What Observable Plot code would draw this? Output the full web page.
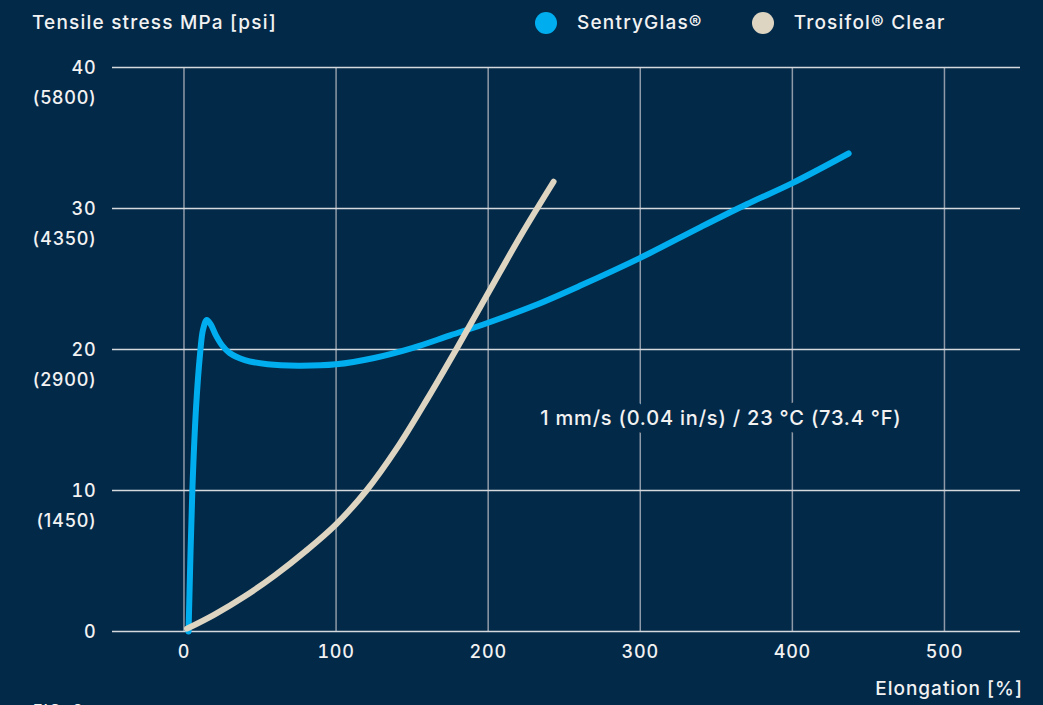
<!DOCTYPE html>
<html>
<head>
<meta charset="utf-8">
<script src="https://cdn.jsdelivr.net/npm/d3@7"></script>
<script src="https://cdn.jsdelivr.net/npm/@observablehq/plot@0.6"></script>
<style>
  html, body { margin: 0; padding: 0; background: #032949; overflow: hidden; }
  #wrap { position: relative; width: 1043px; height: 705px; background: #032949; color: #f2f2f2;
          font-family: Inter, "Noto Sans", sans-serif; font-weight: 500; }
  #chart { position: absolute; left: 0; top: 0; }
  .title { position: absolute; left: 32px; top: 11px; font-size: 19px; letter-spacing: 1.2px; white-space: nowrap; }
  .legend { position: absolute; top: 11px; left: 535px; display: flex; align-items: center; font-size: 19px; letter-spacing: 1.2px; white-space: nowrap; }
  .item { display: flex; align-items: center; }
  .dot { width: 22px; height: 22px; border-radius: 50%; margin-right: 20px; }
  .xlabel { position: absolute; right: 20px; top: 677px; font-size: 19px; letter-spacing: 1px; white-space: nowrap; }
  .fig { position: absolute; left: 33px; top: 700px; font-size: 16px; letter-spacing: 1px; }
</style>
</head>
<body>
<div id="wrap">
  <div id="chart"></div>
  <div class="title" id="title"></div>
  <div class="legend" id="legend"></div>
  <div class="xlabel" id="xlabel"></div>
  <div class="fig" id="fig"></div>
</div>
<script>
// ---- data ----
const seriesNames = ["SentryGlas®", "Trosifol® Clear"];
const seriesColors = ["#00aeef", "#ddd5c1"];

// SentryGlas: [elongation %, stress MPa]
const sentryGlas = [
  [3, 0], [5.5, 10], [8, 16], [10.5, 19.6], [12.5, 21.4],
  [15, 22.1], [17.5, 21.8], [21, 21.0], [25, 20.3], [30, 19.75], [40, 19.25], [55, 18.95],
  [75, 18.85], [100, 18.95], [125, 19.4], [150, 20.1], [175, 21.0], [200, 21.9],
  [230, 23.1], [260, 24.5], [300, 26.5], [340, 28.7], [370, 30.3], [400, 31.8], [437, 33.9]
];
// Trosifol Clear
const trosifol = [
  [2, 0.2], [20, 1.2], [40, 2.5], [60, 4.0], [80, 5.7], [100, 7.6], [120, 10.0],
  [140, 13.0], [160, 16.5], [180, 20.2], [200, 24.0], [221, 28.0], [243, 31.9]
];

const xTicks = [0, 100, 200, 300, 400, 500];
const yTicks = [0, 10, 20, 30, 40];
const psiLabels = ["", "(1450)", "(2900)", "(4350)", "(5800)"];

const titleText = "Tensile stress MPa [psi]";
const xLabel = "Elongation [%]";
const annotation = { x: 353, y: 15.1, text: "1 mm/s (0.04 in/s) / 23 °C (73.4 °F)" };
const figText = "FIG. 2";

// ---- page ----
const bg = "#032949";
document.getElementById("title").textContent = titleText;
document.getElementById("xlabel").textContent = xLabel;
document.getElementById("fig").textContent = figText;
const legend = document.getElementById("legend");
seriesNames.forEach((name, i) => {
  const item = document.createElement("div");
  item.className = "item";
  if (i > 0) item.style.marginLeft = "49px";
  const dot = document.createElement("span");
  dot.className = "dot";
  dot.style.background = seriesColors[i];
  const lab = document.createElement("span");
  lab.textContent = name;
  item.appendChild(dot); item.appendChild(lab);
  legend.appendChild(item);
});

const chart = Plot.plot({
  width: 1043,
  height: 705,
  marginLeft: 112,
  marginRight: 23,
  marginTop: 67,
  marginBottom: 74,
  style: { background: "transparent", color: "#f2f2f2", fontFamily: "Inter, 'Noto Sans', sans-serif", fontSize: "18px", fontWeight: 500, letterSpacing: "0.8px" },
  x: { domain: [-47, 550] },
  y: { domain: [0, 40] },
  marks: [
    Plot.ruleX(xTicks, { stroke: "#8e9aa7", strokeWidth: 1.5 }),
    Plot.ruleY(yTicks, { stroke: "#d5d9de", strokeWidth: 1.5 }),
    Plot.text([annotation], { x: "x", y: "y", text: "text", fill: "#f2f2f2", stroke: bg, strokeWidth: 16, fontSize: 20 }),
    Plot.line(sentryGlas, { x: d => d[0], y: d => d[1], stroke: seriesColors[0], strokeWidth: 6, curve: "catmull-rom", strokeLinecap: "round", strokeLinejoin: "round" }),
    Plot.line(trosifol, { x: d => d[0], y: d => d[1], stroke: seriesColors[1], strokeWidth: 6, curve: "catmull-rom", strokeLinecap: "round", strokeLinejoin: "round" }),
    Plot.axisX(xTicks, { tickSize: 0, tickPadding: 14, label: null, tickFormat: d => String(d) }),
    Plot.axisY(yTicks, { tickSize: 0, tickPadding: 16, label: null, tickFormat: d => String(d), dy: 1 }),
    Plot.text(yTicks, { y: d => d, frameAnchor: "left", dx: -16, dy: 31, textAnchor: "end", text: (d, i) => psiLabels[i], fill: "#f2f2f2" })
  ]
});
document.getElementById("chart").appendChild(chart);
</script>
</body>
</html>
